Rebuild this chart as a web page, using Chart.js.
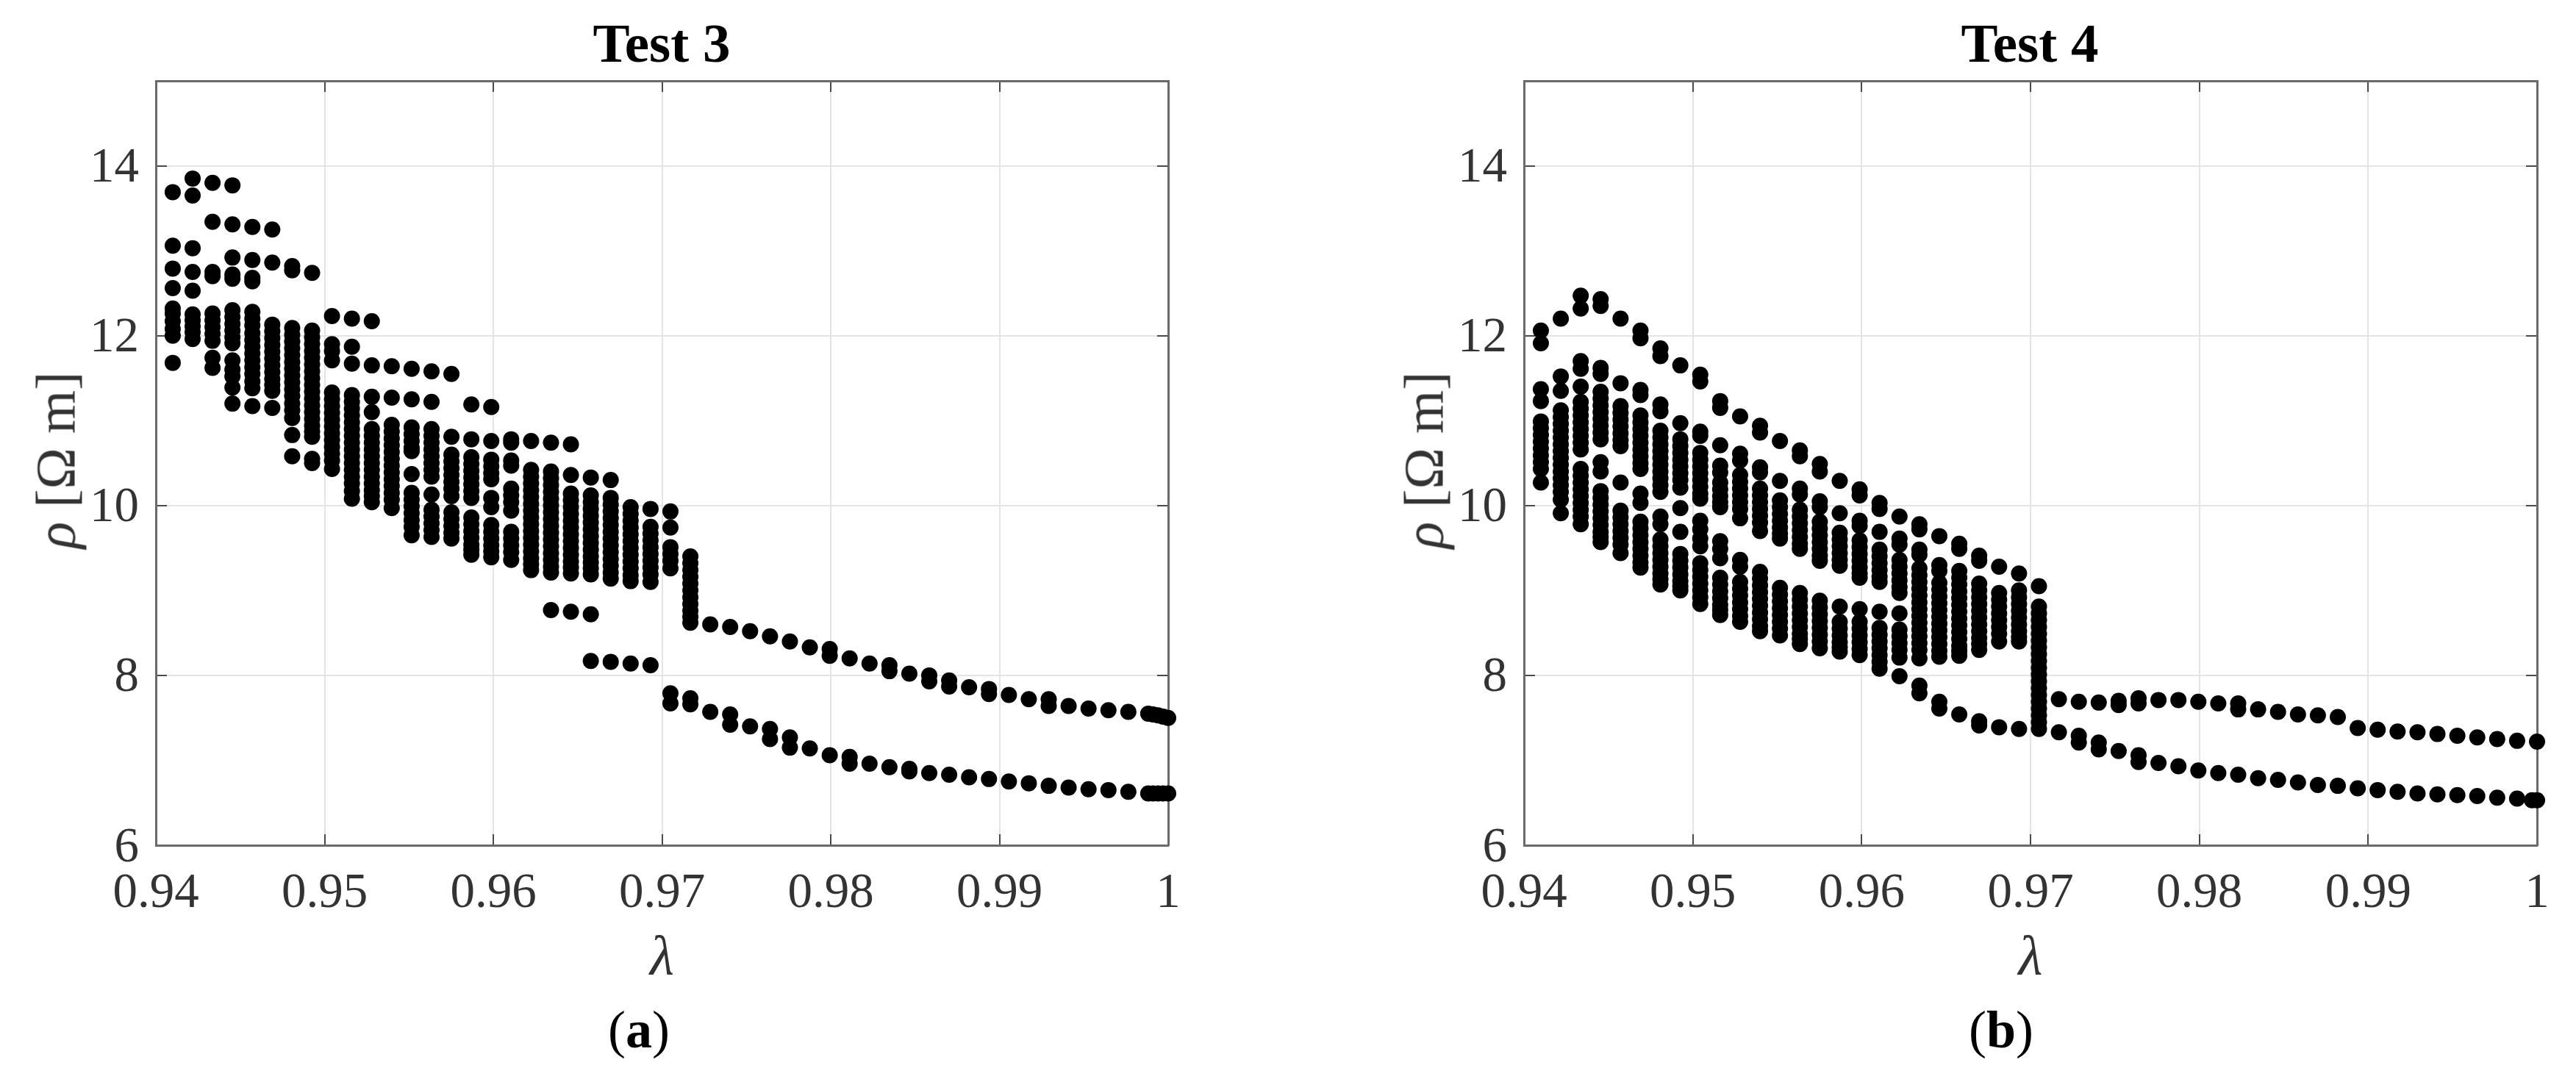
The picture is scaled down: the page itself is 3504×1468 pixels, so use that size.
<!DOCTYPE html>
<html>
<head>
<meta charset="utf-8">
<title>Test 3 / Test 4</title>
<script src="https://cdn.jsdelivr.net/npm/chart.js@4/dist/chart.umd.min.js"></script>
<style>
  html, body { margin: 0; padding: 0; background: #fff; overflow: hidden; width: 3504px; height: 1468px; }
  canvas { position: absolute; top: 0; }
  #chart-a { left: 0; }
  #chart-b { left: 1861px; }
  .ylab { position: absolute; top: 0; font: 76px "Liberation Serif", serif; color: #333; white-space: pre;
          transform: translate(-50%, -50%) rotate(-90deg); }
  .cap { position: absolute; top: 1360px; font: 72px "Liberation Serif", serif; color: #000; }
  .cap b { font-weight: bold; }
</style>
</head>
<body>
<canvas id="chart-a" width="1800" height="1340"></canvas>
<canvas id="chart-b" width="1800" height="1340"></canvas>
<div class="ylab" style="left:76px; top:626px"><i>ρ</i> [Ω m]</div>
<div class="ylab" style="left:1937px; top:626px"><i>ρ</i> [Ω m]</div>
<div class="cap" style="left:827px">(<b>a</b>)</div>
<div class="cap" style="left:2678px">(<b>b</b>)</div>
<script>
'use strict'
///tick labels///
const xTickLabels = ['0.94', '0.95', '0.96', '0.97', '0.98', '0.99', '1']
const yTicks = [6, 8, 10, 12, 14]

///test 3 - one lambda per column of dots///
const lambdaTest3 = [0.941, 0.94218, 0.94336, 0.94454, 0.94572, 0.9469, 0.94808, 0.94926, 0.95044, 0.95162,
  0.9528, 0.95398, 0.95516, 0.95634, 0.95752, 0.9587, 0.95988, 0.96106, 0.96224, 0.96342,
  0.9646, 0.96578, 0.96696, 0.96814, 0.96932, 0.9705, 0.97168, 0.97286, 0.97404, 0.97522,
  0.9764, 0.97758, 0.97876, 0.97994, 0.98112, 0.9823, 0.98348, 0.98466, 0.98584, 0.98702,
  0.9882, 0.98938, 0.99056, 0.99174, 0.99292, 0.9941, 0.99528, 0.99646, 0.99764, 0.99882,
  0.9991, 0.9994, 0.9997, 1]

const rhoTest3 = [
  [13.69, 13.06, 12.79, 12.56, 12.32, 12.26, 12.17, 12.08, 12.0, 11.68],
  [13.85, 13.65, 13.03, 12.75, 12.53, 12.25, 12.18, 12.11, 12.04, 11.96],
  [13.8, 13.34, 12.75, 12.7, 12.26, 12.18, 12.1, 12.02, 11.94, 11.74, 11.62],
  [13.77, 13.31, 12.92, 12.72, 12.67, 12.3, 12.22, 12.14, 12.06, 11.98, 11.91, 11.71, 11.6, 11.52, 11.39, 11.2],
  [13.28, 12.89, 12.68, 12.64, 12.28, 12.2, 12.12, 12.03, 11.95, 11.87, 11.79, 11.71, 11.63, 11.55, 11.46, 11.38, 11.17],
  [13.25, 12.86, 12.13, 12.05, 11.97, 11.89, 11.81, 11.73, 11.65, 11.57, 11.49, 11.42, 11.35, 11.15],
  [12.82, 12.77, 12.09, 12.01, 11.93, 11.85, 11.77, 11.69, 11.61, 11.53, 11.45, 11.37, 11.29, 11.2, 11.12, 11.03, 10.83, 10.58],
  [12.74, 12.06, 11.98, 11.9, 11.82, 11.74, 11.66, 11.58, 11.5, 11.42, 11.34, 11.26, 11.18, 11.1, 11.02, 10.94, 10.87, 10.81, 10.55, 10.5],
  [12.23, 11.9, 11.82, 11.71, 11.33, 11.25, 11.17, 11.09, 11.01, 10.93, 10.85, 10.77, 10.69, 10.61, 10.53, 10.43],
  [12.2, 11.87, 11.67, 11.3, 11.22, 11.14, 11.06, 10.98, 10.9, 10.82, 10.74, 10.66, 10.58, 10.5, 10.42, 10.34, 10.26, 10.17, 10.08],
  [12.17, 11.65, 11.28, 11.1, 10.9, 10.82, 10.74, 10.66, 10.58, 10.5, 10.42, 10.34, 10.26, 10.18, 10.11, 10.04],
  [11.64, 11.27, 10.95, 10.87, 10.79, 10.71, 10.63, 10.55, 10.47, 10.39, 10.31, 10.23, 10.15, 10.07, 9.97],
  [11.61, 11.25, 10.92, 10.84, 10.76, 10.68, 10.64, 10.37, 10.15, 10.07, 9.99, 9.91, 9.83, 9.75, 9.65],
  [11.58, 11.22, 10.9, 10.82, 10.74, 10.66, 10.58, 10.5, 10.42, 10.34, 10.13, 9.95, 9.87, 9.79, 9.71, 9.63],
  [11.55, 10.81, 10.6, 10.52, 10.44, 10.36, 10.28, 10.2, 10.11, 9.92, 9.84, 9.76, 9.68, 9.61],
  [11.19, 10.78, 10.57, 10.49, 10.41, 10.33, 10.25, 10.17, 10.09, 9.86, 9.78, 9.7, 9.62, 9.54, 9.48, 9.42],
  [11.16, 10.76, 10.54, 10.46, 10.38, 10.31, 10.09, 9.98, 9.77, 9.69, 9.61, 9.53, 9.46, 9.39],
  [10.78, 10.74, 10.53, 10.47, 10.2, 10.12, 10.04, 9.94, 9.69, 9.61, 9.53, 9.45, 9.36],
  [10.76, 10.42, 10.34, 10.26, 10.18, 10.1, 10.02, 9.94, 9.86, 9.78, 9.7, 9.62, 9.54, 9.46, 9.38, 9.31, 9.24],
  [10.74, 10.4, 10.32, 10.24, 10.16, 10.08, 10.0, 9.92, 9.84, 9.76, 9.68, 9.6, 9.52, 9.44, 9.36, 9.28, 9.21, 8.77],
  [10.72, 10.36, 10.14, 10.06, 9.98, 9.9, 9.82, 9.74, 9.66, 9.58, 9.5, 9.42, 9.34, 9.27, 9.2, 8.75],
  [10.33, 10.12, 10.04, 9.96, 9.88, 9.8, 9.72, 9.64, 9.56, 9.48, 9.4, 9.33, 9.26, 9.19, 8.72, 8.17],
  [10.3, 10.09, 10.01, 9.93, 9.85, 9.77, 9.69, 9.61, 9.53, 9.45, 9.37, 9.29, 9.21, 9.14, 8.16],
  [9.98, 9.9, 9.82, 9.74, 9.66, 9.58, 9.5, 9.42, 9.34, 9.26, 9.18, 9.11, 8.14],
  [9.96, 9.75, 9.67, 9.59, 9.51, 9.43, 9.35, 9.27, 9.19, 9.1, 8.12],
  [9.93, 9.74, 9.51, 9.43, 9.35, 9.26, 7.79, 7.67],
  [9.4, 9.32, 9.24, 9.16, 9.08, 9.0, 8.92, 8.84, 8.76, 8.69, 8.62, 7.73, 7.66],
  [8.6, 7.57],
  [8.57, 7.54, 7.42],
  [8.52, 7.4],
  [8.46, 7.37, 7.25],
  [8.4, 7.27, 7.15],
  [8.33, 7.14],
  [8.31, 8.23, 7.06],
  [8.2, 7.04, 6.96],
  [8.14, 6.96],
  [8.12, 8.05, 6.92],
  [8.02, 6.9, 6.87],
  [8.0, 7.93, 6.85],
  [7.94, 7.87, 6.83],
  [7.86, 6.8],
  [7.84, 7.78, 6.78],
  [7.77, 6.75],
  [7.72, 6.73],
  [7.72, 7.64, 6.7],
  [7.64, 6.68],
  [7.61, 6.66],
  [7.59, 6.65],
  [7.57, 6.63],
  [7.55, 6.61],
  [7.54, 6.61],
  [7.53, 6.61],
  [7.515, 6.61],
  [7.5, 6.61]
]

///test 4///
const lambdaTest4 = [0.941, 0.94218, 0.94336, 0.94454, 0.94572, 0.9469, 0.94808, 0.94926, 0.95044, 0.95162,
  0.9528, 0.95398, 0.95516, 0.95634, 0.95752, 0.9587, 0.95988, 0.96106, 0.96224, 0.96342,
  0.9646, 0.96578, 0.96696, 0.96814, 0.96932, 0.9705, 0.97168, 0.97286, 0.97404, 0.97522,
  0.9764, 0.97758, 0.97876, 0.97994, 0.98112, 0.9823, 0.98348, 0.98466, 0.98584, 0.98702,
  0.9882, 0.98938, 0.99056, 0.99174, 0.99292, 0.9941, 0.99528, 0.99646, 0.99764, 0.99882,
  0.9997, 1]

const rhoTest4 = [
  [12.06, 11.91, 11.37, 11.23, 10.99, 10.91, 10.83, 10.75, 10.67, 10.59, 10.51, 10.43, 10.27],
  [12.2, 11.52, 11.35, 11.12, 11.04, 10.96, 10.88, 10.8, 10.72, 10.64, 10.56, 10.48, 10.4, 10.32, 10.24, 10.16, 10.07, 9.91],
  [12.47, 12.32, 11.7, 11.61, 11.4, 11.22, 11.14, 11.06, 10.98, 10.9, 10.82, 10.74, 10.66, 10.43, 10.35, 10.27, 10.19, 10.11, 10.03, 9.95, 9.87, 9.78],
  [12.43, 12.35, 11.62, 11.55, 11.34, 11.26, 11.18, 11.1, 11.02, 10.94, 10.86, 10.78, 10.51, 10.4, 10.17, 10.09, 10.01, 9.93, 9.85, 9.77, 9.69, 9.63, 9.57],
  [12.2, 11.44, 11.17, 11.09, 11.01, 10.93, 10.85, 10.77, 10.7, 10.27, 9.94, 9.86, 9.78, 9.7, 9.62, 9.54, 9.44],
  [12.06, 11.97, 11.36, 11.3, 11.06, 10.98, 10.9, 10.82, 10.74, 10.66, 10.58, 10.5, 10.43, 10.14, 10.03, 9.81, 9.73, 9.65, 9.57, 9.49, 9.41, 9.33, 9.27],
  [11.85, 11.76, 11.19, 11.11, 10.88, 10.8, 10.72, 10.64, 10.56, 10.48, 10.4, 10.32, 10.24, 10.16, 9.87, 9.78, 9.6, 9.52, 9.44, 9.36, 9.28, 9.2, 9.13, 9.07],
  [11.65, 10.97, 10.78, 10.7, 10.62, 10.54, 10.46, 10.38, 10.3, 10.21, 9.97, 9.69, 9.43, 9.35, 9.27, 9.19, 9.11, 9.05, 9.0],
  [11.54, 11.46, 10.87, 10.82, 10.62, 10.54, 10.46, 10.38, 10.3, 10.22, 10.14, 10.08, 9.82, 9.72, 9.61, 9.52, 9.32, 9.24, 9.16, 9.08, 9.0, 8.92, 8.84],
  [11.23, 11.15, 10.71, 10.47, 10.39, 10.27, 10.19, 10.11, 10.04, 9.98, 9.58, 9.49, 9.38, 9.15, 9.07, 8.99, 8.91, 8.83, 8.77, 8.71],
  [11.05, 10.61, 10.53, 10.36, 10.28, 10.2, 10.12, 10.04, 9.96, 9.85, 9.36, 9.28, 9.1, 9.02, 8.94, 8.86, 8.78, 8.7, 8.63],
  [10.94, 10.86, 10.45, 10.39, 10.2, 10.12, 10.04, 9.96, 9.88, 9.8, 9.7, 9.22, 9.14, 9.06, 8.98, 8.9, 8.82, 8.74, 8.66, 8.58, 8.52],
  [10.76, 10.29, 10.06, 9.98, 9.9, 9.82, 9.74, 9.67, 9.61, 9.03, 8.95, 8.87, 8.79, 8.71, 8.63, 8.55, 8.47],
  [10.65, 10.58, 10.2, 10.13, 9.95, 9.87, 9.79, 9.71, 9.63, 9.55, 9.49, 8.97, 8.89, 8.81, 8.73, 8.65, 8.57, 8.49, 8.43, 8.37],
  [10.49, 10.4, 10.05, 9.98, 9.81, 9.73, 9.65, 9.57, 9.49, 9.41, 9.35, 8.88, 8.8, 8.72, 8.64, 8.56, 8.48, 8.4, 8.32],
  [10.29, 9.91, 9.68, 9.6, 9.52, 9.44, 9.36, 9.29, 8.81, 8.63, 8.55, 8.47, 8.39, 8.33, 8.28],
  [10.19, 10.12, 9.82, 9.76, 9.59, 9.51, 9.43, 9.35, 9.27, 9.2, 9.15, 8.78, 8.63, 8.55, 8.47, 8.39, 8.31, 8.24],
  [10.03, 9.96, 9.69, 9.48, 9.4, 9.32, 9.24, 9.16, 9.1, 8.75, 8.56, 8.48, 8.4, 8.32, 8.24, 8.16, 8.08],
  [9.87, 9.61, 9.54, 9.36, 9.28, 9.2, 9.12, 9.04, 8.97, 8.73, 8.54, 8.46, 8.38, 8.3, 8.21, 7.99],
  [9.78, 9.72, 9.48, 9.42, 9.26, 9.18, 9.1, 9.02, 8.94, 8.86, 8.78, 8.7, 8.62, 8.54, 8.46, 8.38, 8.3, 8.2, 7.88, 7.79],
  [9.64, 9.3, 9.23, 9.09, 9.01, 8.93, 8.85, 8.77, 8.69, 8.61, 8.53, 8.45, 8.37, 8.29, 8.22, 7.69, 7.61],
  [9.55, 9.49, 9.23, 9.15, 9.07, 8.99, 8.91, 8.83, 8.75, 8.67, 8.59, 8.51, 8.43, 8.35, 8.29, 8.23, 7.54],
  [9.41, 9.35, 9.08, 9.0, 8.92, 8.84, 8.76, 8.68, 8.6, 8.52, 8.44, 8.37, 8.3, 7.46, 7.41],
  [9.28, 8.97, 8.89, 8.81, 8.73, 8.65, 8.57, 8.49, 8.4, 7.39],
  [9.2, 9.0, 8.92, 8.84, 8.76, 8.68, 8.6, 8.52, 8.45, 8.4, 7.37],
  [9.05, 8.81, 8.73, 8.65, 8.57, 8.49, 8.41, 8.33, 8.25, 8.17, 8.09, 8.01, 7.93, 7.85, 7.77, 7.69, 7.61, 7.53, 7.45, 7.37],
  [7.72, 7.33],
  [7.69, 7.29, 7.21],
  [7.68, 7.21, 7.13],
  [7.7, 7.65, 7.11],
  [7.73, 7.67, 7.06, 6.98],
  [7.71, 6.97],
  [7.71, 6.93],
  [7.69, 6.88],
  [7.67, 6.85],
  [7.67, 7.6, 6.83],
  [7.6, 6.79],
  [7.57, 6.77],
  [7.54, 6.74],
  [7.53, 6.71],
  [7.51, 6.7],
  [7.38, 6.67],
  [7.36, 6.65],
  [7.34, 6.63],
  [7.33, 6.61],
  [7.31, 6.6],
  [7.29, 6.59],
  [7.27, 6.58],
  [7.25, 6.56],
  [7.23, 6.55],
  [6.53],
  [7.22, 6.53]
]

const frameColor = '#6a6a6a'
const gridColor = '#e4e4e4'
const tickColor = '#4a4a4a'
const textColor = '#333333'
const fontFamily = '"Liberation Serif", serif'

///columns -> {x, y} points for the scatter///
function toPoints(lambdas, rhos) {
  let points = []
  for (let i = 0; i < lambdas.length; i++) {
    for (let j = 0; j < rhos[i].length; j++) {
      points.push({x: lambdas[i], y: rhos[i][j]})
    }
  }
  return points
}

function fixSize(prop, size) {
  return function (scale) {
    scale[prop] = size
    scale.paddingLeft = 0///labels at the ends must not push the plot area in
    scale.paddingRight = 0
  }
}

function renderChart(id, title, lambdas, rhos, plotWidth) {
  let sideGrid = {drawOnChartArea: false, color: tickColor, tickColor: tickColor, tickLength: -15, lineWidth: 2}
  let border = {color: frameColor, width: 3}

  new Chart(document.getElementById(id).getContext('2d'), {
    type: 'scatter',
    data: {
      datasets: [{
        data: toPoints(lambdas, rhos),
        backgroundColor: '#000000',
        borderWidth: 0,
        pointRadius: 11,
        pointHoverRadius: 11,
        clip: false
      }]
    },
    options: {
      responsive: false,
      animation: false,
      layout: {padding: 0},
      plugins: {
        legend: {display: false},
        tooltip: {enabled: false},
        title: {
          display: true,
          text: title,
          color: '#000000',
          font: {family: fontFamily, size: 75, weight: 'bold', lineHeight: 1.2},
          padding: {top: 20, bottom: 0}
        }
      },
      scales: {
        x: {
          type: 'linear', position: 'bottom', min: 0.94, max: 1,
          afterFit: fixSize('height', 190),
          border: border,
          grid: {color: gridColor, lineWidth: 2, tickColor: tickColor, tickLength: -15, tickWidth: 2},
          afterBuildTicks: function (scale) { scale.ticks = xTickLabels.map(function (t) { return {value: Number(t)} }) },
          ticks: {
            padding: 41, color: textColor, maxRotation: 0, font: {family: fontFamily, size: 67},
            callback: function (value) { return xTickLabels.find(function (t) { return Number(t) === value }) }
          },
          title: {display: false}
        },
        x2: {
          type: 'linear', position: 'top', min: 0.94, max: 1,
          afterFit: fixSize('height', 0),
          border: border,
          grid: sideGrid,
          afterBuildTicks: function (scale) { scale.ticks = xTickLabels.map(function (t) { return {value: Number(t)} }) },
          ticks: {display: false}
        },
        y: {
          type: 'linear', position: 'left', min: 6, max: 15,
          afterFit: fixSize('width', 212),
          border: border,
          grid: {color: gridColor, lineWidth: 2, tickColor: tickColor, tickLength: -15, tickWidth: 2},
          afterBuildTicks: function (scale) { scale.ticks = yTicks.map(function (v) { return {value: v} }) },
          ticks: {padding: 38, labelOffset: 4, color: textColor, font: {family: fontFamily, size: 67}}
        },
        y2: {
          type: 'linear', position: 'right', min: 6, max: 15,
          afterFit: fixSize('width', 1800 - 212 - plotWidth),
          border: border,
          grid: sideGrid,
          afterBuildTicks: function (scale) { scale.ticks = yTicks.map(function (v) { return {value: v} }) },
          ticks: {display: false}
        }
      }
    },
    plugins: [{
      id: 'lambdaLabel',
      afterDraw: function (chart) {
        ///axis label, lambda is italic like the other math in the figure
        let ctx = chart.ctx
        ctx.save()
        ctx.font = 'italic 76px ' + fontFamily
        ctx.fillStyle = textColor
        ctx.textAlign = 'center'
        ctx.textBaseline = 'middle'
        ctx.fillText('λ', (chart.chartArea.left + chart.chartArea.right) / 2, chart.chartArea.bottom + 156)
        ctx.restore()
      }
    }]
  })
}

renderChart('chart-a', 'Test 3', lambdaTest3, rhoTest3, 1377)
renderChart('chart-b', 'Test 4', lambdaTest4, rhoTest4, 1378)
</script>
</body>
</html>
